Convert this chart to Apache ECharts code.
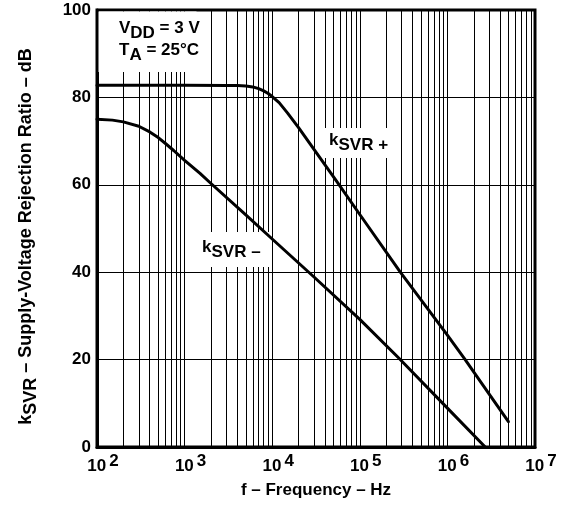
<!DOCTYPE html>
<html>
<head>
<meta charset="utf-8">
<script src="https://cdn.jsdelivr.net/npm/echarts@6/dist/echarts.min.js"></script>
<style>
html,body{margin:0;padding:0;background:#fff;}
#chart{width:564px;height:506px;}
</style>
</head>
<body>
<div id="chart"></div>
<script>
// ---- data ----
var freqPlus  = [100, 1000, 3000, 4000, 5000, 6000, 7000, 8000, 9000, 10000, 12000, 15000, 20000, 30000, 54000, 100000, 290000, 1000000, 1580000, 3000000, 4970000];
var ksvrPlus  = [82.8, 82.8, 82.75, 82.7, 82.6, 82.4, 82.0, 81.5, 80.9, 80.2, 78.8, 76.4, 73.1, 68.1, 60.9, 53.2, 40.0, 25.6, 20.1, 12.1, 5.8];
var freqMinus = [100, 150, 200, 300, 400, 500, 600, 750, 1000, 1500, 2000, 5000, 10000, 30000, 100000, 280000, 1000000, 2700000];
var ksvrMinus = [75.0, 74.8, 74.4, 73.4, 72.1, 70.8, 69.5, 67.85, 65.6, 62.6, 60.3, 53.1, 47.6, 38.9, 29.2, 20.3, 8.9, 0];
var decades = [100, 1000, 10000, 100000, 1000000];
var multipliers = [2, 3, 4, 5, 6, 7, 8, 9];
var yTicks = [0, 20, 40, 60, 80, 100];

var FONT = '"Liberation Sans", Arial, Helvetica, sans-serif';
var minorFreqs = [];
decades.forEach(function (d) { multipliers.forEach(function (m) { minorFreqs.push(m * d); }); });

function zip(xs, ys) { return xs.map(function (x, i) { return [x, ys[i]]; }); }
function tok(size, padTop, padBottom) {
  return { fontSize: size, fontWeight: 'bold', fontFamily: FONT, fill: '#000', color: '#000',
           padding: [padTop || 0, 0, padBottom || 0, 0] };
}

var chart = echarts.init(document.getElementById('chart'), null, { renderer: 'canvas' });
chart.setOption({
  animation: false,
  backgroundColor: '#fff',
  grid: { left: 97, right: 29, top: 10, bottom: 59, show: true, borderColor: '#000', borderWidth: 3, backgroundColor: 'transparent' },
  xAxis: {
    type: 'log', logBase: 10, min: 100, max: 10000000, splitNumber: 5,
    axisLine: { show: true, lineStyle: { color: '#000', width: 3 } },
    axisTick: { show: false },
    splitLine: { show: true, lineStyle: { color: '#000', width: 1 } },
    axisLabel: {
      margin: 6, padding: [0, 0, 0, 12],
      formatter: function (v) { return '{a|10}{b|' + Math.round(Math.log10(v)) + '}'; },
      rich: {
        a: { fontSize: 17, fontWeight: 'bold', fontFamily: FONT, color: '#000' },
        b: { fontSize: 17, fontWeight: 'bold', fontFamily: FONT, color: '#000', padding: [0, 0, 10, 3] }
      }
    },
    name: 'f – Frequency – Hz', nameLocation: 'middle', nameGap: 35,
    nameTextStyle: { fontSize: 17, fontWeight: 'bold', fontFamily: FONT, color: '#000' }
  },
  yAxis: {
    type: 'value', min: yTicks[0], max: yTicks[yTicks.length - 1], interval: 20,
    axisLine: { show: true, lineStyle: { color: '#000', width: 3 } },
    axisTick: { show: false },
    splitLine: { show: true, lineStyle: { color: '#000', width: 1 } },
    axisLabel: { margin: 6, fontSize: 17, fontWeight: 'bold', fontFamily: FONT, color: '#000' },
    name: '{k|k}{s|SVR}{t| – Supply-Voltage Rejection Ratio – dB}',
    nameLocation: 'middle', nameRotate: 90, nameGap: 57,
    nameTextStyle: {
      padding: [0, 16, 0, 0],
      rich: {
        k: { fontSize: 18, fontWeight: 'bold', fontFamily: FONT, color: '#000' },
        s: { fontSize: 18, fontWeight: 'bold', fontFamily: FONT, color: '#000', padding: [10, 0, 0, 0] },
        t: { fontSize: 18, fontWeight: 'bold', fontFamily: FONT, color: '#000' }
      }
    }
  },
  series: [
    {
      name: 'kSVR+', type: 'line', z: 10, data: zip(freqPlus, ksvrPlus),
      showSymbol: false, symbol: 'none', smooth: false,
      lineStyle: { color: '#000', width: 3, join: 'round', cap: 'round' }, silent: true,
      markLine: {
        silent: true, z: 1, symbol: ['none', 'none'], animation: false,
        label: { show: false },
        lineStyle: { color: '#000', width: 1, type: 'solid' },
        emphasis: { disabled: true },
        data: minorFreqs.map(function (v) { return { xAxis: v }; })
      }
    },
    {
      name: 'kSVR-', type: 'line', z: 10, data: zip(freqMinus, ksvrMinus),
      showSymbol: false, symbol: 'none', smooth: false,
      lineStyle: { color: '#000', width: 3, join: 'round', cap: 'round' }, silent: true
    }
  ],
  graphic: [
    { type: 'rect', z: 3, silent: true, shape: { x: 98.5, y: 11.5, width: 98, height: 60.5 }, style: { fill: '#fff' } },
    { type: 'rect', z: 3, silent: true, shape: { x: 324, y: 128, width: 66, height: 30 }, style: { fill: '#fff' } },
    { type: 'rect', z: 3, silent: true, shape: { x: 198, y: 232, width: 72, height: 35 }, style: { fill: '#fff' } },
    { type: 'text', z: 4, silent: true, style: { x: 119, y: 15, verticalAlign: 'top', text: '{a|V}{b|DD}{a| = 3 V}', rich: { a: tok(17), b: tok(17, 10, 0) } } },
    { type: 'text', z: 4, silent: true, style: { x: 119, y: 37, verticalAlign: 'top', text: '{a|T}{b|A}{a| = 25°C}', rich: { a: tok(17), b: tok(17, 10, 0) } } },
    { type: 'text', z: 4, silent: true, style: { x: 329, y: 127, verticalAlign: 'top', text: '{a|k}{b|SVR +}', rich: { a: tok(17), b: tok(17, 10, 0) } } },
    { type: 'text', z: 4, silent: true, style: { x: 202, y: 234, verticalAlign: 'top', text: '{a|k}{b|SVR –}', rich: { a: tok(17), b: tok(17, 10, 0) } } }
  ]
});
</script>
</body>
</html>
